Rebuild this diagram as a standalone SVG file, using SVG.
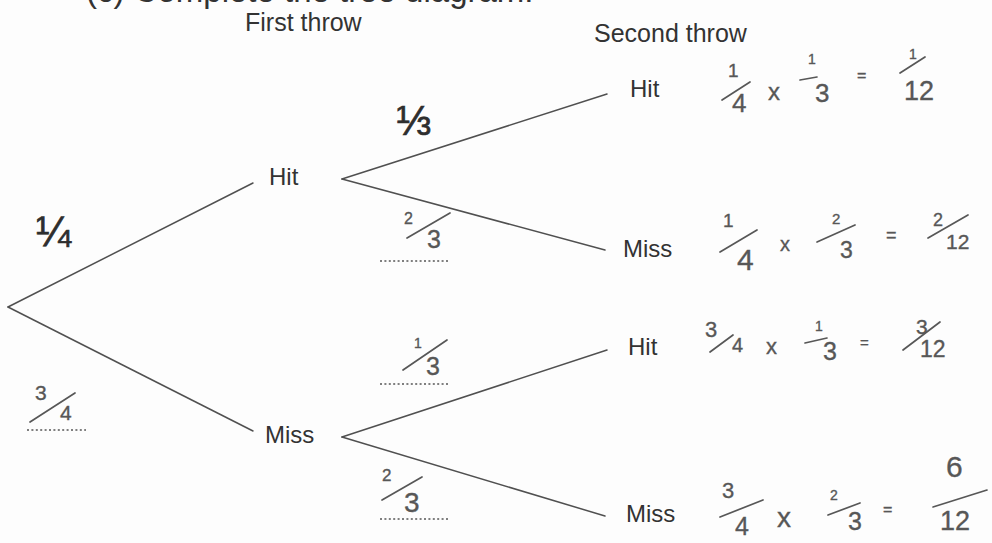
<svg xmlns="http://www.w3.org/2000/svg" width="992" height="543" viewBox="0 0 992 543">
<style>
.bg{fill:#fdfdfd}
.t{font-family:"Liberation Sans","DejaVu Sans",sans-serif;fill:#333}
.lbl{font-size:24px}
.hd{font-size:25px}
.pf{font-size:42px;fill:#2e2e2e;stroke:#2e2e2e;stroke-width:0.7}
.hw{font-family:"Liberation Sans","DejaVu Sans",sans-serif;fill:#575757;stroke:#575757;stroke-width:0.35}
.ln{stroke:#505050;stroke-width:1.5;fill:none;stroke-linecap:round}
.bar{stroke:#575757;stroke-width:1.7;fill:none;stroke-linecap:round}
.dot{stroke:#555;stroke-width:1.6;stroke-dasharray:2 2.4;fill:none}
</style>
<rect class="bg" x="0" y="0" width="992" height="543"/>
<text class="t" x="86" y="2" font-size="33" fill="#444">(c) Complete the tree diagram.</text>
<text class="t hd" x="245" y="31">First throw</text>
<text class="t hd" x="594" y="42">Second throw</text>

<g id="connectors">
  <line class="ln" x1="8" y1="307" x2="253" y2="183"/>
  <line class="ln" x1="8" y1="307" x2="253" y2="431"/>
  <line class="ln" x1="342" y1="179" x2="607" y2="94"/>
  <line class="ln" x1="342" y1="179" x2="605" y2="250"/>
  <line class="ln" x1="342" y1="437" x2="607" y2="350"/>
  <line class="ln" x1="342" y1="437" x2="605" y2="516"/>
</g>

<g id="root"></g>
<g id="first-hit"><text class="t lbl" x="269" y="185">Hit</text></g>
<g id="first-miss"><text class="t lbl" x="265" y="443">Miss</text></g>
<g id="hit-hit"><text class="t lbl" x="630" y="97">Hit</text></g>
<g id="hit-miss"><text class="t lbl" x="623" y="257">Miss</text></g>
<g id="miss-hit"><text class="t lbl" x="628" y="355">Hit</text></g>
<g id="miss-miss"><text class="t lbl" x="626" y="522">Miss</text></g>

<g id="branch-probabilities">
  <text class="t pf" x="36" y="246">¼</text>
  <text class="t pf" x="396" y="135">⅓</text>
  <g id="p-miss1">
    <text class="hw" x="35" y="400" font-size="21">3</text>
    <line class="bar" x1="30" y1="422" x2="75" y2="393"/>
    <text class="hw" x="60" y="420" font-size="21">4</text>
    <line class="dot" x1="27" y1="430" x2="86" y2="430"/>
  </g>
  <g id="p-hm">
    <text class="hw" x="404" y="224" font-size="16">2</text>
    <line class="bar" x1="407" y1="238" x2="450" y2="213"/>
    <text class="hw" x="427" y="248" font-size="25">3</text>
    <line class="dot" x1="380" y1="261" x2="449" y2="261"/>
  </g>
  <g id="p-mh">
    <text class="hw" x="414" y="348" font-size="14">1</text>
    <line class="bar" x1="403" y1="370" x2="447" y2="340"/>
    <text class="hw" x="426" y="375" font-size="25">3</text>
    <line class="dot" x1="380" y1="384" x2="449" y2="384"/>
  </g>
  <g id="p-mm">
    <text class="hw" x="382" y="481" font-size="17">2</text>
    <line class="bar" x1="382" y1="500" x2="422" y2="477"/>
    <text class="hw" x="404" y="512" font-size="28">3</text>
    <line class="dot" x1="380" y1="519" x2="449" y2="519"/>
  </g>
</g>

<g id="calc-1">
  <text class="hw" x="728" y="77" font-size="19">1</text>
  <line class="bar" x1="722" y1="100" x2="750" y2="82"/>
  <text class="hw" x="732" y="112" font-size="26">4</text>
  <text class="hw" x="768" y="100" font-size="24">x</text>
  <text class="hw" x="808" y="64" font-size="14">1</text>
  <line class="bar" x1="800" y1="80" x2="817" y2="77"/>
  <text class="hw" x="815" y="102" font-size="26">3</text>
  <text class="hw" x="857" y="81" font-size="16">=</text>
  <text class="hw" x="909" y="59" font-size="14">1</text>
  <line class="bar" x1="900" y1="73" x2="925" y2="57"/>
  <text class="hw" x="904" y="100" font-size="27">12</text>
</g>
<g id="calc-2">
  <text class="hw" x="723" y="227" font-size="19">1</text>
  <line class="bar" x1="720" y1="252" x2="757" y2="230"/>
  <text class="hw" x="737" y="270" font-size="30">4</text>
  <text class="hw" x="780" y="251" font-size="20">x</text>
  <text class="hw" x="832" y="224" font-size="15">2</text>
  <line class="bar" x1="817" y1="242" x2="855" y2="225"/>
  <text class="hw" x="840" y="258" font-size="23">3</text>
  <text class="hw" x="886" y="241" font-size="18">=</text>
  <text class="hw" x="933" y="226" font-size="18">2</text>
  <line class="bar" x1="928" y1="238" x2="968" y2="215"/>
  <text class="hw" x="946" y="249" font-size="21">12</text>
</g>
<g id="calc-3">
  <text class="hw" x="705" y="337" font-size="22">3</text>
  <line class="bar" x1="710" y1="352" x2="733" y2="335"/>
  <text class="hw" x="732" y="352" font-size="20">4</text>
  <text class="hw" x="766" y="354" font-size="22">x</text>
  <text class="hw" x="815" y="331" font-size="14">1</text>
  <line class="bar" x1="805" y1="343" x2="827" y2="338"/>
  <text class="hw" x="823" y="360" font-size="25">3</text>
  <text class="hw" x="860" y="348" font-size="15">=</text>
  <text class="hw" x="916" y="334" font-size="21">3</text>
  <line class="bar" x1="903" y1="350" x2="940" y2="322"/>
  <text class="hw" x="920" y="357" font-size="23">12</text>
</g>
<g id="calc-4">
  <text class="hw" x="722" y="498" font-size="22">3</text>
  <line class="bar" x1="720" y1="517" x2="763" y2="500"/>
  <text class="hw" x="735" y="535" font-size="25">4</text>
  <text class="hw" x="777" y="527" font-size="28">x</text>
  <text class="hw" x="830" y="500" font-size="14">2</text>
  <line class="bar" x1="828" y1="515" x2="860" y2="503"/>
  <text class="hw" x="848" y="530" font-size="25">3</text>
  <text class="hw" x="883" y="515" font-size="16">=</text>
  <text class="hw" x="946" y="477" font-size="30">6</text>
  <line class="bar" x1="933" y1="507" x2="987" y2="490"/>
  <text class="hw" x="940" y="530" font-size="27">12</text>
</g>
</svg>
